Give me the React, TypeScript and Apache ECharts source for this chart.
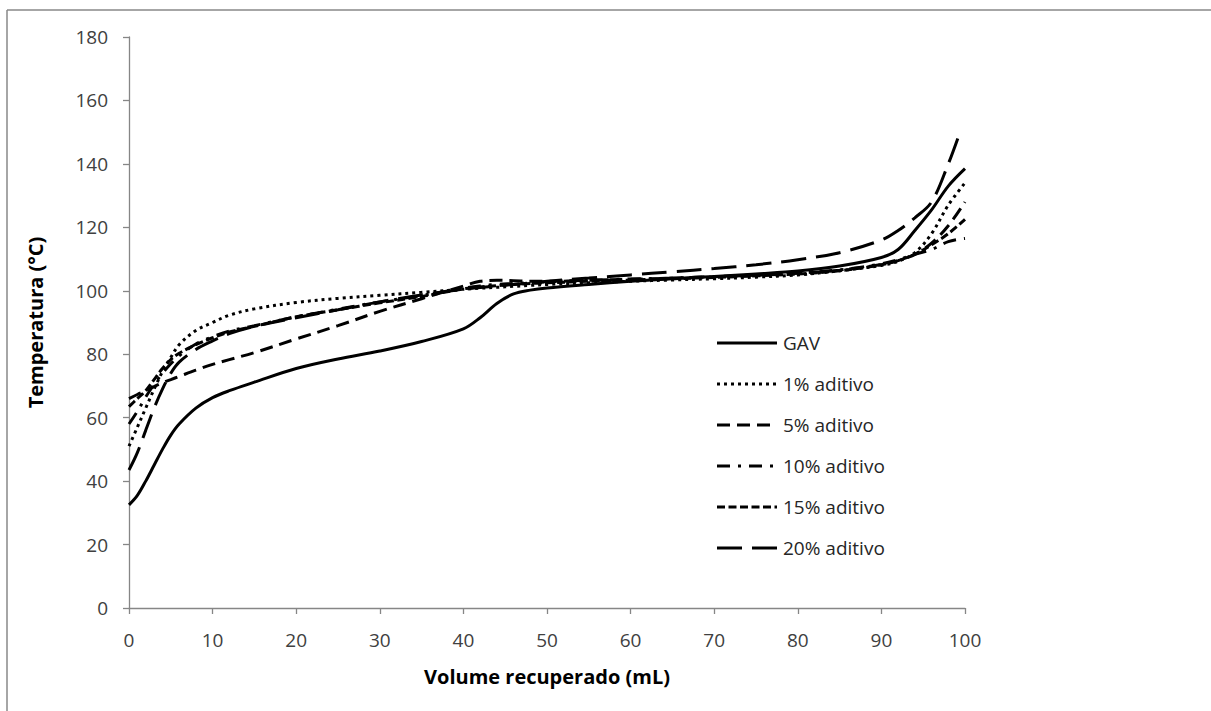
import React, { useEffect, useRef } from "react";
import * as echarts from "echarts";

const volume = [0, 1, 2, 3, 4, 5, 6, 8, 10, 12, 15, 20, 25, 30, 35, 40, 42, 44, 46, 48, 50, 55, 60, 65, 70, 75, 80, 85, 90, 92, 94, 96, 98, 100];
const volume20 = [0, 1, 2, 3, 4, 5, 6, 8, 10, 12, 15, 20, 25, 30, 35, 40, 42, 44, 46, 48, 50, 55, 60, 65, 70, 75, 80, 85, 90, 92, 94, 96, 98, 99.4];

const gav = [32.5, 35.5, 40, 45, 50, 54.5, 58, 63, 66.3, 68.5, 71.2, 75.5, 78.5, 81, 84, 88, 91.5, 96, 99, 100.2, 100.9, 102, 103, 103.8, 104.5, 105.3, 106.2, 107.8, 110.5, 113, 119, 125.5, 133, 138.5];
const ad1 = [51, 57, 63, 69, 74.5, 79, 83, 87.5, 90, 92.3, 94.3, 96.3, 97.6, 98.6, 99.5, 100.5, 100.8, 101.1, 101.4, 101.7, 102, 102.5, 103, 103.4, 103.8, 104.3, 105, 106.3, 108, 109.3, 112, 118, 127, 134];
const ad5 = [66, 67.3, 68.5, 69.8, 71, 72, 73, 75, 76.8, 78.3, 80.5, 84.8, 89, 93.5, 97.5, 101.5, 103, 103.3, 103.2, 103, 103, 103.3, 103.6, 104, 104.4, 104.9, 105.5, 106.5, 108.3, 109.5, 111.5, 115, 120.5, 128];
const ad10 = [58, 62, 66.5, 70.5, 74, 77, 79.5, 83.2, 85.5, 87.3, 89, 91.8, 94.2, 96.5, 98.5, 100.8, 101.5, 102, 102.3, 102.6, 102.8, 103.3, 103.7, 104, 104.5, 105, 105.6, 106.6, 108.5, 109.8, 111.5, 113, 115.5, 116.5];
const ad15 = [63.5, 66, 68.5, 72, 75.5, 78.3, 80.3, 83, 85.2, 87, 88.8, 91.8, 94, 96.2, 98.2, 100.6, 101.2, 101.6, 102, 102.3, 102.5, 103, 103.4, 103.8, 104.2, 104.7, 105.3, 106.3, 108.2, 109.5, 111.5, 114.5, 118, 122.5];
const ad20 = [43.5, 49, 56, 63, 69, 74, 77.5, 81.5, 84.2, 86.5, 88.8, 91.5, 94, 96.5, 98.7, 100.5, 101, 101.5, 102, 102.5, 103, 104, 105, 106, 107, 108.2, 109.8, 112, 116, 119, 123, 128, 140, 150];

const seriesNames = ["GAV", "1% aditivo", "5% aditivo", "10% aditivo", "15% aditivo", "20% aditivo"];
const dashes: any[] = [null, [3, 4], [13, 7], [13, 8, 3, 8], [8, 3.5], [25, 10]];

const FONT = "'Open Sans', 'Noto Sans', sans-serif";

export default function App() {
  const ref = useRef<HTMLDivElement>(null);
  useEffect(() => {
    if (!ref.current) return;
    const chart = echarts.init(ref.current, undefined, { renderer: "svg" });
    const zip = (xs: number[], ys: number[]) => xs.map((x, i) => [x, ys[i]]);
    const mk = (i: number, xs: number[], ys: number[]) => ({
      name: seriesNames[i],
      type: "line",
      data: zip(xs, ys),
      smooth: 0.35,
      symbol: "none",
      showSymbol: false,
      lineStyle: { color: "#000", width: 3, type: dashes[i] || "solid", cap: "butt" },
      itemStyle: { color: "#000" },
    });
    const legendGraphics: any[] = [];
    seriesNames.forEach((n, i) => {
      const y = 343 + i * 41;
      legendGraphics.push({
        type: "line",
        shape: { x1: 717, y1: y, x2: 777, y2: y },
        style: { stroke: "#000", lineWidth: 3, lineDash: dashes[i] || null, lineCap: "butt" },
      });
      legendGraphics.push({
        type: "text",
        x: 783,
        y,
        style: { text: n, fontFamily: FONT, fontSize: 19, fill: "#262626", verticalAlign: "middle", align: "left" },
      });
    });
    chart.setOption({
      animation: false,
      backgroundColor: "#fff",
      grid: { left: 129, right: 246, top: 37, bottom: 103, containLabel: false },
      xAxis: {
        type: "value",
        min: 0,
        max: 100,
        interval: 10,
        name: "Volume recuperado (mL)",
        nameLocation: "middle",
        nameGap: 58,
        nameTextStyle: { fontFamily: FONT, fontSize: 20, fontWeight: "bold", color: "#000" },
        axisLine: { show: true, lineStyle: { color: "#868686", width: 1.3 } },
        axisTick: { show: true, inside: false, length: 6, lineStyle: { color: "#868686", width: 1.3 } },
        axisLabel: { margin: 22, fontFamily: FONT, fontSize: 19, color: "#404040" },
        splitLine: { show: false },
      },
      yAxis: {
        type: "value",
        min: 0,
        max: 180,
        interval: 20,
        name: "Temperatura (°C)",
        nameLocation: "middle",
        nameGap: 84,
        nameRotate: 90,
        nameTextStyle: { fontFamily: FONT, fontSize: 20, fontWeight: "bold", color: "#000" },
        axisLine: { show: true, lineStyle: { color: "#868686", width: 1.3 } },
        axisTick: { show: true, inside: false, length: 6, lineStyle: { color: "#868686", width: 1.3 } },
        axisLabel: { margin: 21, fontFamily: FONT, fontSize: 19, color: "#404040" },
        splitLine: { show: false },
      },
      legend: { show: false },
      graphic: [
        { type: "line", shape: { x1: 7, y1: 10, x2: 1211, y2: 10 }, style: { stroke: "#888", lineWidth: 1.5 } },
        { type: "line", shape: { x1: 7, y1: 10, x2: 7, y2: 711 }, style: { stroke: "#888", lineWidth: 1.5 } },
        ...legendGraphics,
      ],
      series: [
        mk(0, volume, gav),
        mk(1, volume, ad1),
        mk(2, volume, ad5),
        mk(3, volume, ad10),
        mk(4, volume, ad15),
        mk(5, volume20, ad20),
      ],
    });
    return () => chart.dispose();
  }, []);
  return <div ref={ref} style={{ position: "absolute", left: 0, top: 0, width: 1211, height: 711 }} />;
}
